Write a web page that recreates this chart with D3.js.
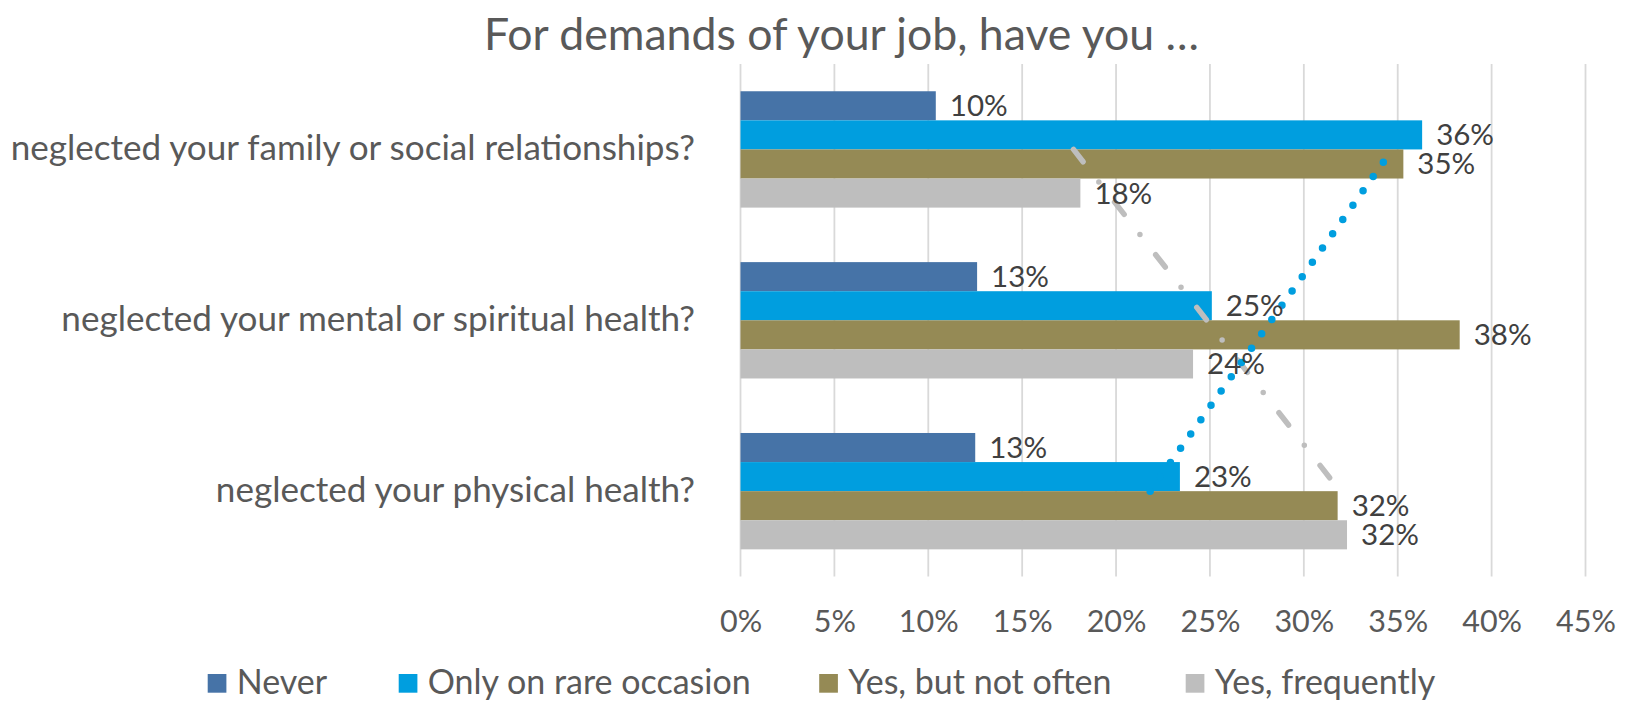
<!DOCTYPE html>
<html>
<head>
<meta charset="utf-8">
<script src="https://cdn.jsdelivr.net/npm/d3@7"></script>
<style>
  html, body { margin: 0; padding: 0; background: #ffffff; }
  svg { display: block; }
  text { font-family: Lato, "Open Sans", sans-serif; }
</style>
</head>
<body>
<svg id="chart" width="1628" height="701"></svg>
<script>
// Survey answers per question (share of respondents)
const categories = [
  "neglected your family or social relationships?",
  "neglected your mental or spiritual health?",
  "neglected your physical health?"
];
const seriesNames = ["Never", "Only on rare occasion", "Yes, but not often", "Yes, frequently"];
const never        = [0.104, 0.126, 0.125];
const rareOccasion = [0.363, 0.251, 0.234];
const notOften     = [0.353, 0.383, 0.318];
const frequently   = [0.181, 0.241, 0.323];
const xTicks = [0, 0.05, 0.10, 0.15, 0.20, 0.25, 0.30, 0.35, 0.40, 0.45];
const titleText = "For demands of your job, have you \u2026";

const seriesValues = [never, rareOccasion, notOften, frequently];
const seriesColors = ["#4673A7", "#009EDF", "#958A55", "#BEBEBE"];

const svg = d3.select("#chart");
const plot = { left: 740.5, right: 1585.5, top: 64, bottom: 576.6 };

const x = d3.scaleLinear().domain([0, 0.45]).range([plot.left, plot.right]);
const y = d3.scaleBand().domain(categories)
  .range([plot.top, plot.bottom]).paddingInner(0.319).paddingOuter(0.1595);
const ySeries = d3.scaleBand().domain(seriesNames).range([0, y.bandwidth()]);

// Title
svg.append("text")
  .attr("x", 841.5).attr("y", 50)
  .attr("text-anchor", "middle")
  .attr("fill", "#595959")
  .style("font-size", "44.6px")
  .text(titleText);

// Vertical gridlines
svg.append("g").selectAll("line").data(xTicks).join("line")
  .attr("x1", d => x(d)).attr("x2", d => x(d))
  .attr("y1", plot.top).attr("y2", plot.bottom)
  .attr("stroke", "#D9D9D9").attr("stroke-width", 1.8);

// Bottom axis tick labels
const xAxis = d3.axisBottom(x).tickValues(xTicks).tickFormat(d3.format(".0%")).tickSize(0).tickPadding(0);
const gx = svg.append("g").attr("transform", `translate(0,${plot.bottom})`).call(xAxis);
gx.select(".domain").remove();
gx.selectAll("text")
  .attr("y", 632 - plot.bottom).attr("dy", null)
  .attr("fill", "#595959")
  .style("font-size", "30.5px")
  .style("font-family", "Lato, sans-serif");

// Category labels on the left
const yAxis = d3.axisLeft(y).tickSize(0).tickPadding(0);
const gy = svg.append("g").attr("transform", `translate(695,0)`).call(yAxis);
gy.select(".domain").remove();
gy.selectAll("text")
  .attr("x", 0).attr("dy", null).attr("y", 11)
  .attr("text-anchor", "end")
  .attr("fill", "#595959")
  .style("font-size", "35.1px")
  .style("font-family", "Lato, sans-serif");

// Bars and data labels
const rows = [];
seriesNames.forEach((s, si) => {
  categories.forEach((c, ci) => {
    rows.push({ series: s, si, category: c, value: seriesValues[si][ci] });
  });
});

svg.append("g").selectAll("rect").data(rows).join("rect")
  .attr("x", x(0))
  .attr("y", d => y(d.category) + ySeries(d.series))
  .attr("width", d => x(d.value) - x(0))
  .attr("height", ySeries.bandwidth())
  .attr("fill", d => seriesColors[d.si]);

// Linear trendlines over the category positions
function trend(values) {
  const xs = values.map((_, i) => i + 1);
  const mx = d3.mean(xs), my = d3.mean(values);
  const slope = d3.sum(xs, (xi, i) => (xi - mx) * (values[i] - my)) / d3.sum(xs, xi => (xi - mx) ** 2);
  const icpt = my - slope * mx;
  return xs.map((xi, i) => ({ category: categories[i], value: icpt + slope * xi }));
}
const trendLine = d3.line()
  .x(d => x(d.value))
  .y(d => y(d.category) + y.bandwidth() / 2);

// "Yes, frequently" trend: long dash / dot
svg.append("path")
  .datum(trend(frequently))
  .attr("d", trendLine)
  .attr("fill", "none")
  .attr("stroke", "#BEBEBE")
  .attr("stroke-width", 5.5)
  .attr("stroke-linecap", "round")
  .attr("stroke-dasharray", "15.6 25.6 0 25.6");

// "Only on rare occasion" trend: round dots, drawn from the last category upward
svg.append("path")
  .datum(trend(rareOccasion).reverse())
  .attr("d", trendLine)
  .attr("fill", "none")
  .attr("stroke", "#009EDF")
  .attr("stroke-width", 7.5)
  .attr("stroke-linecap", "round")
  .attr("stroke-dasharray", "0 17.53");

// Value labels
svg.append("g").selectAll("text").data(rows).join("text")
  .attr("x", d => x(d.value) + 14)
  .attr("y", d => y(d.category) + ySeries(d.series) + ySeries.bandwidth() / 2 + 10.5)
  .attr("fill", "#404040")
  .style("font-size", "29.5px")
  .text(d => d3.format(".0%")(d.value));

// Legend
const legendX = [207.7, 398.7, 819.2, 1185.7];
const legend = svg.append("g").selectAll("g").data(seriesNames).join("g")
  .attr("transform", (d, i) => `translate(${legendX[i]},674)`);
legend.append("rect")
  .attr("width", 18.7).attr("height", 18.7)
  .attr("fill", (d, i) => seriesColors[i]);
legend.append("text")
  .attr("x", 29).attr("y", 19.8)
  .attr("fill", "#595959")
  .style("font-size", "34px")
  .text(d => d);
</script>
</body>
</html>
